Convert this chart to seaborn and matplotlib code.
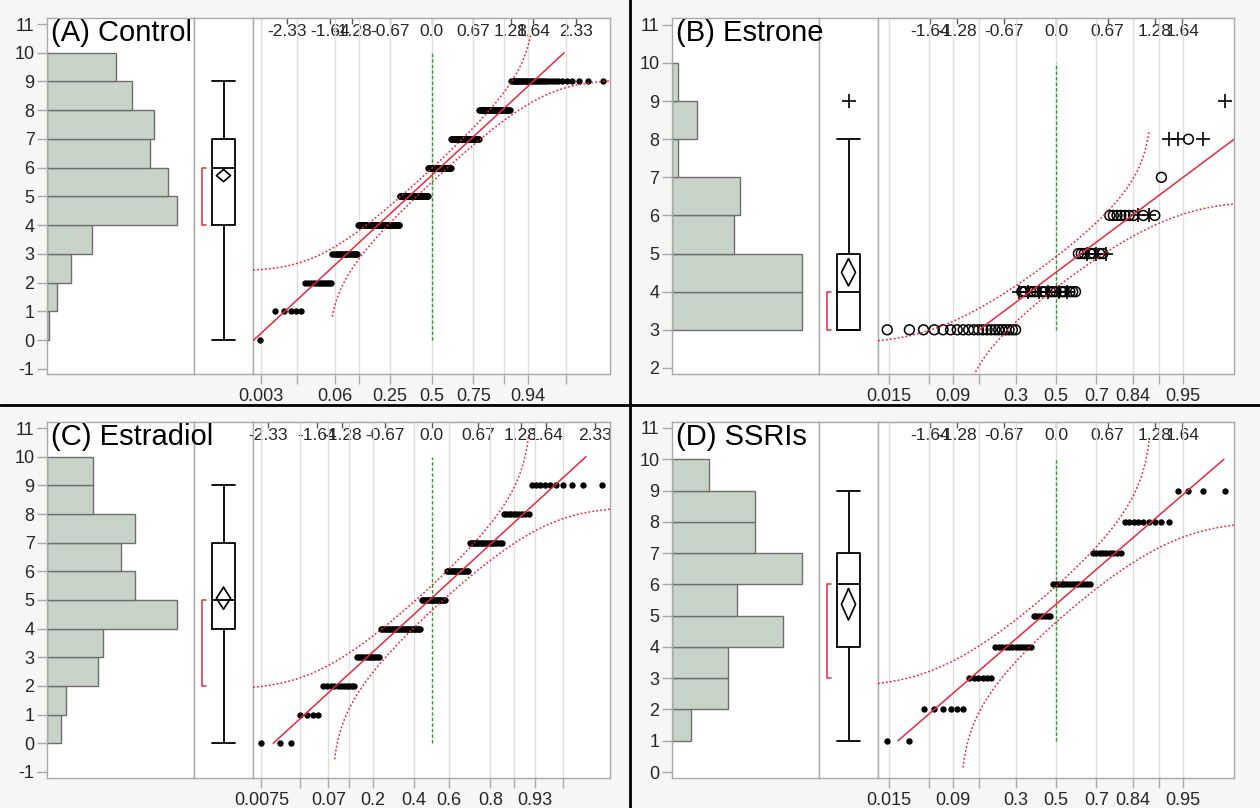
import numpy as np
import matplotlib
matplotlib.use("Agg")
import matplotlib.pyplot as plt
from matplotlib.lines import Line2D
import seaborn as sns
from statistics import NormalDist

sns.set_style("white")
plt.rcParams['font.family'] = ['Liberation Sans', 'DejaVu Sans']

ND = NormalDist()

# ---------------- data ----------------
control_values = [0, 1, 2, 3, 4, 5, 6, 7, 8, 9]
control_counts = [1, 5, 12, 22, 64, 60, 51, 53, 42, 34]

estrone_values = [3, 4, 5, 6, 7, 8, 9]
estrone_counts = [21, 21, 10, 11, 1, 4, 1]
estrone_markers = ["ooooooooooooooooooooo",
                   "+oo+ooo+oo+ooo+oo+ooo",
                   "ooo+oo+oo+",
                   "ooooooo+o+o",
                   "o",
                   "++o+",
                   "+"]

estradiol_values = [0, 1, 2, 3, 4, 5, 6, 7, 8, 9]
estradiol_counts = [3, 4, 11, 12, 28, 19, 16, 19, 10, 10]

ssri_values = [1, 2, 3, 4, 5, 6, 7, 8, 9]
ssri_counts = [2, 6, 6, 12, 7, 14, 9, 9, 4]

panel_titles = ["(A) Control", "(B) Estrone", "(C) Estradiol", "(D) SSRIs"]

quantile_ticks_wide = [-2.33, -1.64, -1.28, -0.67, 0.0, 0.67, 1.28, 1.64, 2.33]
quantile_labels_wide = ["-2.33", "-1.64", "-1.28", "-0.67", "0.0", "0.67", "1.28", "1.64", "2.33"]
quantile_ticks_narrow = [-1.64, -1.28, -0.67, 0.0, 0.67, 1.28, 1.64]
quantile_labels_narrow = ["-1.64", "-1.28", "-0.67", "0.0", "0.67", "1.28", "1.64"]

prob_ticks_A = [0.003, 0.015, 0.06, 0.12, 0.25, 0.5, 0.75, 0.88, 0.94, 0.985]
prob_labels_A = ["0.003", "", "0.06", "", "0.25", "0.5", "0.75", "", "0.94", ""]
prob_ticks_C = [0.0075, 0.03, 0.07, 0.12, 0.2, 0.4, 0.6, 0.8, 0.88, 0.93, 0.97]
prob_labels_C = ["0.0075", "", "0.07", "", "0.2", "0.4", "0.6", "0.8", "", "0.93", ""]
prob_ticks_BD = [0.015, 0.05, 0.09, 0.16, 0.3, 0.5, 0.7, 0.84, 0.91, 0.95]
prob_labels_BD = ["0.015", "", "0.09", "", "0.3", "0.5", "0.7", "0.84", "", "0.95"]

yticks_AC = list(range(-1, 12))
yticks_B = list(range(2, 12))
yticks_D = list(range(0, 12))

# ---------------- style ----------------
BG = "#f6f6f4"
FRAME = "#a9a9a9"
GRID = "#dedede"
HIST_FILL = "#c8d4c8"
HIST_EDGE = "#6e6e6e"
RED = "#e8283c"
GREEN = "#2aa02a"

W, H = 1260, 808
fig = plt.figure(figsize=(W / 100, H / 100), dpi=100, facecolor=BG)


def frac(l, r, t, b):
    return [l / W, 1 - b / H, (r - l) / W, (b - t) / H]


def style_frame(ax):
    ax.set_facecolor("white")
    for s in ax.spines.values():
        s.set_visible(True)
        s.set_color(FRAME)
        s.set_linewidth(1.0)


panels = [
    dict(values=control_values, counts=control_counts, title=panel_titles[0],
         box=(47, 194, 253, 610, 18, 374), ylim=(-1.18, 11.21), yticks=yticks_AC,
         qt=quantile_ticks_wide, ql=quantile_labels_wide,
         pt=prob_ticks_A, pl=prob_labels_A, markers=None),
    dict(values=estrone_values, counts=estrone_counts, title=panel_titles[1],
         box=(672, 819, 878, 1234, 18, 374), ylim=(1.84, 11.18), yticks=yticks_B,
         qt=quantile_ticks_narrow, ql=quantile_labels_narrow,
         pt=prob_ticks_BD, pl=prob_labels_BD, markers=estrone_markers),
    dict(values=estradiol_values, counts=estradiol_counts, title=panel_titles[2],
         box=(47, 194, 253, 610, 422, 778), ylim=(-1.21, 11.21), yticks=yticks_AC,
         qt=quantile_ticks_wide, ql=quantile_labels_wide,
         pt=prob_ticks_C, pl=prob_labels_C, markers=None),
    dict(values=ssri_values, counts=ssri_counts, title=panel_titles[3],
         box=(672, 819, 878, 1234, 422, 778), ylim=(-0.19, 11.19), yticks=yticks_D,
         qt=quantile_ticks_narrow, ql=quantile_labels_narrow,
         pt=prob_ticks_BD, pl=prob_labels_BD, markers=None),
]


def draw_panel(p):
    hl, bl, ql, qr, top, bot = p["box"]
    vals = np.repeat(np.array(p["values"], dtype=float), p["counts"])
    n = len(vals)
    mean = vals.mean()
    sd = vals.std(ddof=1)
    vmin, vmax = vals.min(), vals.max() + 1

    # ---------- histogram ----------
    axh = fig.add_axes(frac(hl, bl, top, bot))
    style_frame(axh)
    edges = np.arange(vals.min(), vals.max() + 2)
    sns.histplot(y=vals, bins=edges, ax=axh, color=HIST_FILL, edgecolor=HIST_EDGE,
                 linewidth=1.0, alpha=1)
    axh.set_xlim(0, max(p["counts"]) * 1.135)
    axh.set_ylim(*p["ylim"])
    axh.set_yticks(p["yticks"])
    axh.set_yticklabels([str(t) for t in p["yticks"]])
    axh.set_xticks([])
    axh.set_xlabel("")
    axh.set_ylabel("")
    axh.tick_params(axis="y", left=True, length=7, width=1, color=FRAME,
                    labelsize=13, pad=2)

    # ---------- box plot ----------
    axb = fig.add_axes(frac(bl, ql, top, bot))
    style_frame(axb)
    bw = 0.4
    sns.boxplot(y=vals, ax=axb, width=bw, fill=False, color="black", linewidth=1.3,
                whis=1.5,
                flierprops=dict(marker="+", markersize=10, markeredgecolor="black",
                                markeredgewidth=1.2))
    for ln in axb.lines:
        yd = np.asarray(ln.get_ydata(), dtype=float)
        if len(yd) == 2 and yd[0] == yd[1]:
            ln.set_xdata([-bw / 2, bw / 2])
    ci = 1.96 * sd / np.sqrt(n)
    dw = 0.12
    axb.plot([0, dw, 0, -dw, 0], [mean + ci, mean, mean - ci, mean, mean + ci],
             color="black", lw=1.2)
    # shortest half
    h = int(np.ceil(n / 2))
    widths = vals[h - 1:] - vals[:n - h + 1]
    i0 = int(np.argmin(widths))
    lo, hi = vals[i0], vals[i0 + h - 1]
    axb.plot([-0.30, -0.36, -0.36, -0.30], [lo, lo, hi, hi], color=RED, lw=1.1)
    axb.set_xlim(-0.5, 0.5)
    axb.set_ylim(*p["ylim"])
    axb.set_xticks([])
    axb.set_yticks([])
    axb.set_xlabel("")
    axb.set_ylabel("")

    # ---------- normal quantile plot ----------
    axq = fig.add_axes(frac(ql, qr, top, bot))
    style_frame(axq)
    z = np.array([ND.inv_cdf(i / (n + 1)) for i in range(1, n + 1)])
    zlim = z.max() + 0.12
    axq.set_xlim(-zlim, zlim)
    axq.set_ylim(*p["ylim"])

    ptz = [ND.inv_cdf(q) for q in p["pt"]]
    axq.set_xticks(ptz)
    axq.set_xticklabels(p["pl"])
    axq.set_yticks([])
    axq.tick_params(axis="x", bottom=True, length=7, width=1, color=FRAME,
                    labelsize=13, pad=3)
    axq.grid(axis="x", color=GRID, lw=1.0)
    axq.grid(axis="y", visible=False)
    axq.set_axisbelow(True)

    sec = axq.secondary_xaxis("top")
    sec.set_xticks(p["qt"])
    sec.set_xticklabels(p["ql"])
    sec.tick_params(direction="in", length=4, width=1, color="#555555",
                    labelsize=12.5, pad=-15)
    sec.spines["top"].set_color(FRAME)

    # reference line at median quantile
    axq.plot([0, 0], [vmin, vmax], color=GREEN, lw=1.0, ls=(0, (2.5, 1.5)), zorder=2)

    # fitted normal line
    zl = np.array([(vmin - mean) / sd, (vmax - mean) / sd])
    axq.plot(zl, mean + sd * zl, color=RED, lw=1.1, zorder=4)

    # Lilliefors confidence bands
    d = 0.886 / np.sqrt(n)
    zg = np.linspace(-zlim, zlim, 600)
    P = np.array([ND.cdf(v) for v in zg])
    qu = P + d
    mu = qu <= 0.994
    yu = mean + sd * np.array([ND.inv_cdf(q) for q in qu[mu]])
    qlw = P - d
    ml = qlw >= 0.006
    yl = mean + sd * np.array([ND.inv_cdf(q) for q in qlw[ml]])
    axq.plot(zg[mu], yu, color=RED, lw=1.1, ls=(0, (1.2, 1.4)), zorder=4)
    axq.plot(zg[ml], yl, color=RED, lw=1.1, ls=(0, (1.2, 1.4)), zorder=4)

    # points
    if p["markers"] is None:
        sns.scatterplot(x=z, y=vals, ax=axq, color="black", s=21, linewidth=0, zorder=3)
    else:
        mk = np.array(list("".join(p["markers"])))
        circ = mk == "o"
        sns.scatterplot(x=z[circ], y=vals[circ], ax=axq, marker="o", s=50,
                        color="black", linewidth=1.1, zorder=3)
        coll = axq.collections[-1]
        coll.set_facecolor("none")
        coll.set_edgecolor("black")
        sns.scatterplot(x=z[~circ], y=vals[~circ], ax=axq, marker="+", s=90,
                        color="black", linewidth=1.2, zorder=3)
    axq.set_xlabel("")
    axq.set_ylabel("")

    fig.text((hl + 4) / W, 1 - (top + 1) / H, p["title"], fontsize=21,
             va="top", ha="left", color="black", zorder=10)


for p in panels:
    draw_panel(p)

# panel dividers
fig.add_artist(Line2D([0.5, 0.5], [0, 1], transform=fig.transFigure, color="black", lw=2))
fig.add_artist(Line2D([0, 1], [1 - 405 / H, 1 - 405 / H], transform=fig.transFigure,
                      color="black", lw=2))

fig.savefig("out.png", dpi=100, facecolor=BG)
